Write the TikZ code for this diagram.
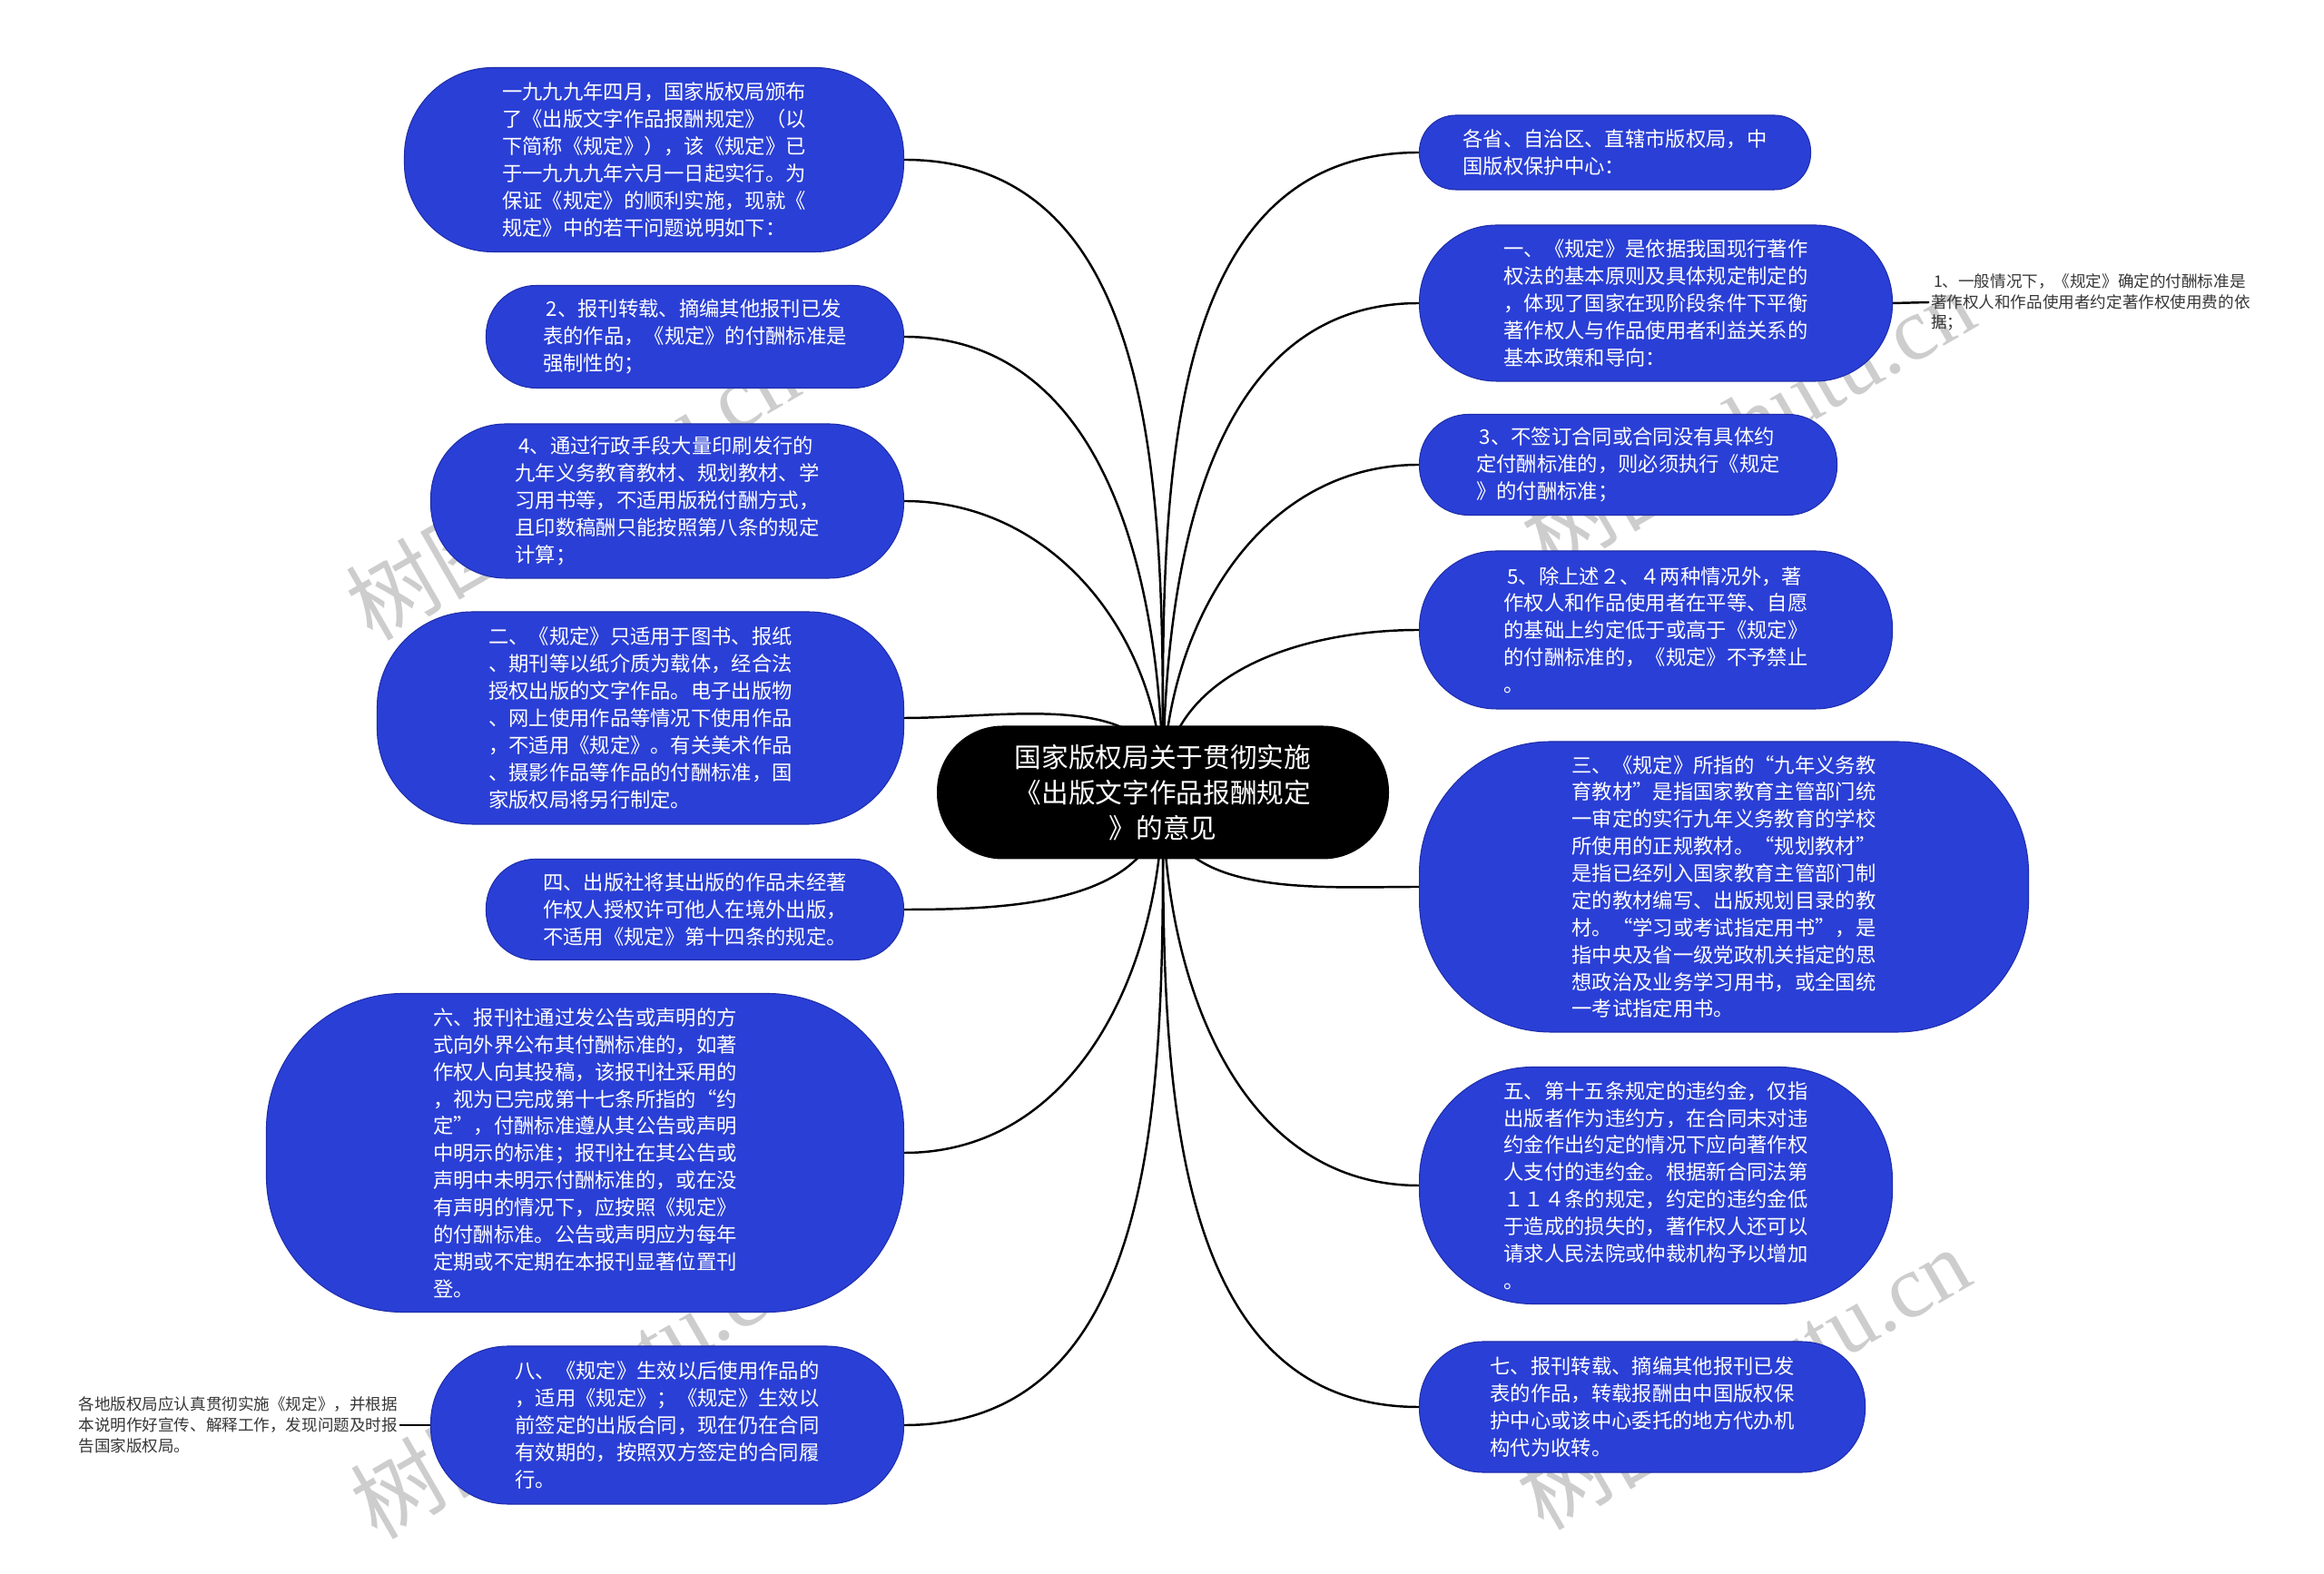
\documentclass[tikz,border=0pt]{standalone}
\usepackage{fontspec}
\setmainfont{Noto Sans CJK SC}
\newfontfamily\wzlatein{Liberation Serif}
\usepackage{tikz}
\usetikzlibrary{backgrounds}
\usepackage{xcolor}
\definecolor{astblau}{RGB}{42,63,214}
\definecolor{astrand}{RGB}{30,45,170}
\definecolor{notizgrau}{RGB}{55,55,55}
\definecolor{wzgrau}{RGB}{205,205,205}

\tikzset{
  zentrum/.style={fill=black, text=white, align=center, font=\fontsize{16.9}{22.2}\selectfont},
  blatt/.style={fill=astblau, draw=astrand, line width=0.6pt, text=white, align=left, font=\fontsize{12.7}{17}\selectfont},
  notiz/.style={text=notizgrau, align=left, inner sep=1pt, font=\fontsize{10}{13}\selectfont},
  kante/.style={line width=1.4pt, black},
  wz/.style={text=wzgrau, rotate=30, font=\fontsize{56}{56}\selectfont}
}

\begin{document}
\begin{tikzpicture}
  \useasboundingbox (0,0) rectangle (51.2,34.66);
  % Zentrum
  \node[zentrum, minimum width=9.96cm, minimum height=2.94cm, rounded corners=1.45cm] (root) at (25.62,17.2)
    {国家版权局关于贯彻实施\\《出版文字作品报酬规定\\》的意见};
  % linke Aeste
  \node[blatt, anchor=east, minimum width=11cm, minimum height=4.06cm, rounded corners=1.95cm] (l1) at (19.92,31.14)
    {一九九九年四月，国家版权局颁布\\了《出版文字作品报酬规定》（以\\下简称《规定》），该《规定》已\\于一九九九年六月一日起实行。为\\保证《规定》的顺利实施，现就《\\规定》中的若干问题说明如下：};
  \node[blatt, anchor=east, minimum width=9.2cm, minimum height=2.26cm, rounded corners=1.1cm] (l2) at (19.92,27.24)
    {\,2、报刊转载、摘编其他报刊已发\\表的作品，《规定》的付酬标准是\\强制性的；};
  \node[blatt, anchor=east, minimum width=10.42cm, minimum height=3.4cm, rounded corners=1.65cm] (l3) at (19.92,23.62)
    {\,4、通过行政手段大量印刷发行的\\九年义务教育教材、规划教材、学\\习用书等，不适用版税付酬方式，\\且印数稿酬只能按照第八条的规定\\计算；};
  \node[blatt, anchor=east, minimum width=11.6cm, minimum height=4.68cm, rounded corners=2.1cm] (l4) at (19.92,18.84)
    {二、《规定》只适用于图书、报纸\\、期刊等以纸介质为载体，经合法\\授权出版的文字作品。电子出版物\\、网上使用作品等情况下使用作品\\，不适用《规定》。有关美术作品\\、摄影作品等作品的付酬标准，国\\家版权局将另行制定。};
  \node[blatt, anchor=east, minimum width=9.2cm, minimum height=2.22cm, rounded corners=1.08cm] (l5) at (19.92,14.62)
    {四、出版社将其出版的作品未经著\\作权人授权许可他人在境外出版，\\不适用《规定》第十四条的规定。};
  \node[blatt, anchor=east, minimum width=14.04cm, minimum height=7.02cm, rounded corners=3cm] (l6) at (19.92,9.26)
    {六、报刊社通过发公告或声明的方\\式向外界公布其付酬标准的，如著\\作权人向其投稿，该报刊社采用的\\，视为已完成第十七条所指的“约\\定”，付酬标准遵从其公告或声明\\中明示的标准；报刊社在其公告或\\声明中未明示付酬标准的，或在没\\有声明的情况下，应按照《规定》\\的付酬标准。公告或声明应为每年\\定期或不定期在本报刊显著位置刊\\登。};
  \node[blatt, anchor=east, minimum width=10.42cm, minimum height=3.48cm, rounded corners=1.7cm] (l7) at (19.92,3.26)
    {八、《规定》生效以后使用作品的\\，适用《规定》；《规定》生效以\\前签定的出版合同，现在仍在合同\\有效期的，按照双方签定的合同履\\行。};
  \node[notiz, anchor=east] (l7note) at (8.8,3.26)
    {各地版权局应认真贯彻实施《规定》，并根据\\本说明作好宣传、解释工作，发现问题及时报\\告国家版权局。};
  % rechte Aeste
  \node[blatt, anchor=west, minimum width=8.62cm, minimum height=1.64cm, rounded corners=0.8cm] (r1) at (31.26,31.30)
    {各省、自治区、直辖市版权局，中\\国版权保护中心：};
  \node[blatt, anchor=west, minimum width=10.42cm, minimum height=3.44cm, rounded corners=1.7cm] (r2) at (31.26,27.98)
    {一、《规定》是依据我国现行著作\\权法的基本原则及具体规定制定的\\，体现了国家在现阶段条件下平衡\\著作权人与作品使用者利益关系的\\基本政策和导向：};
  \node[notiz, anchor=west] (r2note) at (42.5,28.0)
    {\,1、一般情况下，《规定》确定的付酬标准是\\著作权人和作品使用者约定著作权使用费的依\\据；};
  \node[blatt, anchor=west, minimum width=9.2cm, minimum height=2.22cm, rounded corners=1.08cm] (r3) at (31.26,24.42)
    {\,3、不签订合同或合同没有具体约\\定付酬标准的，则必须执行《规定\\》的付酬标准；};
  \node[blatt, anchor=west, minimum width=10.42cm, minimum height=3.48cm, rounded corners=1.7cm] (r4) at (31.26,20.78)
    {\,5、除上述２、４两种情况外，著\\作权人和作品使用者在平等、自愿\\的基础上约定低于或高于《规定》\\的付酬标准的，《规定》不予禁止\\。};
  \node[blatt, anchor=west, minimum width=13.42cm, minimum height=6.4cm, rounded corners=2.9cm] (r5) at (31.26,15.12)
    {三、《规定》所指的“九年义务教\\育教材”是指国家教育主管部门统\\一审定的实行九年义务教育的学校\\所使用的正规教材。“规划教材”\\是指已经列入国家教育主管部门制\\定的教材编写、出版规划目录的教\\材。“学习或考试指定用书”，是\\指中央及省一级党政机关指定的思\\想政治及业务学习用书，或全国统\\一考试指定用书。};
  \node[blatt, anchor=west, minimum width=10.42cm, minimum height=5.22cm, rounded corners=2.5cm] (r6) at (31.26,8.54)
    {五、第十五条规定的违约金，仅指\\出版者作为违约方，在合同未对违\\约金作出约定的情况下应向著作权\\人支付的违约金。根据新合同法第\\１１４条的规定，约定的违约金低\\于造成的损失的，著作权人还可以\\请求人民法院或仲裁机构予以增加\\。};
  \node[blatt, anchor=west, minimum width=9.82cm, minimum height=2.88cm, rounded corners=1.4cm] (r7) at (31.26,3.66)
    {七、报刊转载、摘编其他报刊已发\\表的作品，转载报酬由中国版权保\\护中心或该中心委托的地方代办机\\构代为收转。};
  % Hintergrund: Wasserzeichen und Verbindungen
  \begin{pgfonlayer}{background}
    \fill[white] (0,0) rectangle (51.2,34.66);
    \node[wz] (wz1) at (12.6,23.9) {树图 {\wzlatein shutu.cn}};
    \node[wz] (wz2) at (38.5,25.4) {树图 {\wzlatein shutu.cn}};
    \node[wz] (wz3) at (12.7,4.1) {树图 {\wzlatein shutu.cn}};
    \node[wz] (wz4) at (38.4,4.3) {树图 {\wzlatein shutu.cn}};
    \foreach \z in {l1,l2,l3,l4}
      \draw[kante] (root.center) to[out=90,in=0] (\z.east);
    \foreach \z in {l5,l6,l7}
      \draw[kante] (root.center) to[out=-90,in=0] (\z.east);
    \foreach \z in {r1,r2,r3,r4}
      \draw[kante] (root.center) to[out=90,in=180] (\z.west);
    \foreach \z in {r5,r6,r7}
      \draw[kante] (root.center) to[out=-90,in=180] (\z.west);
    \draw[kante] (r2.east) -- (r2note.west);
    \draw[kante] (l7.west) -- (l7note.east);
  \end{pgfonlayer}
\end{tikzpicture}
\end{document}
